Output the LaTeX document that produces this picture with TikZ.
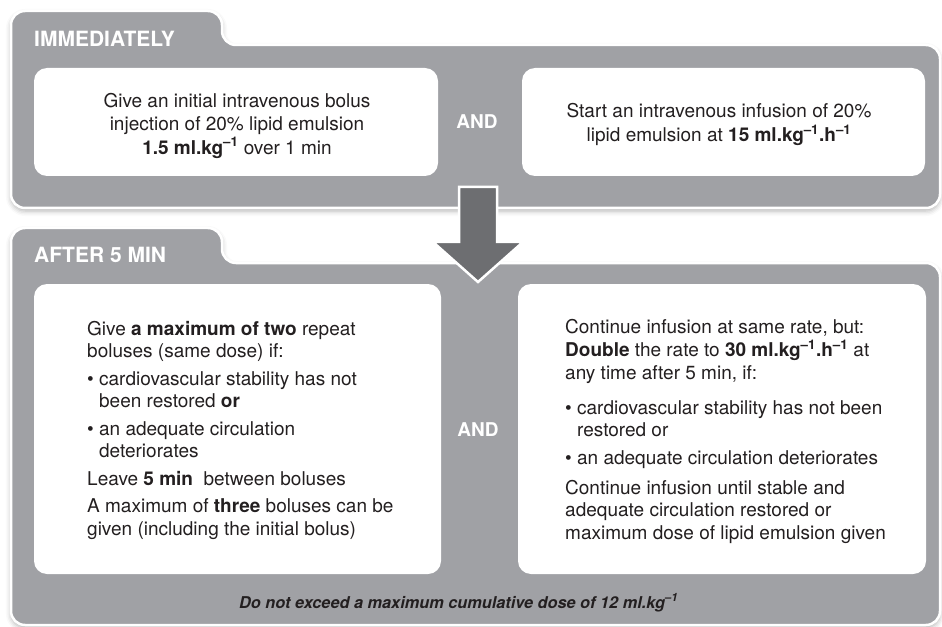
\documentclass[tikz,border=0pt]{standalone}
\usepackage{fontspec}
\setmainfont{TeX Gyre Heros}
\usetikzlibrary{shadows.blur}
\definecolor{panelgray}{HTML}{A0A1A5}
\definecolor{arrowgray}{HTML}{6D6E71}
\definecolor{ink}{HTML}{231F20}
\newcommand\negsup{\textsuperscript{–1}}
\newcommand\bul{\textbullet\ }
\newcommand\bulpad{\phantom{\textbullet\ }}
\begin{document}
\begin{tikzpicture}[x=1bp,y=-1bp,
  panel/.style={fill=panelgray, draw=white, line width=2.5bp, rounded corners=14bp,
    blur shadow={shadow xshift=0bp, shadow yshift=-3bp, shadow blur radius=5bp, shadow opacity=30}},
  card/.style={fill=white, rounded corners=13bp, inner sep=0pt},
  body/.style={text=ink, font=\fontsize{19bp}{22.5bp}\selectfont, inner sep=0pt},
  head/.style={text=white, font=\fontsize{21bp}{25bp}\selectfont\bfseries, inner sep=0pt},
  conj/.style={text=white, font=\fontsize{19bp}{22.5bp}\selectfont\bfseries, inner sep=0pt},
  note/.style={text=ink, font=\fontsize{16.3bp}{20bp}\selectfont\bfseries\itshape, inner sep=0pt},
  blockarrow/.style={fill=arrowgray, draw=white, line width=2.5bp, line join=miter}]
\useasboundingbox (0,0) rectangle (942,627);

% immediate phase panel with its tab
\path[panel] (11,208) -- (11,11) -- (222,11) -- (222,45) -- (940,45) -- (940,208) -- cycle;
% later phase panel with its tab
\path[panel] (11,625) -- (11,228) -- (222,228) -- (222,263) -- (940,263) -- (940,625) -- cycle;

% white cards
\path[card] (34,68) rectangle (438,176);
\path[card] (522,68) rectangle (925,176);
\path[card] (34,284) rectangle (441,574);
\path[card] (518,284) rectangle (926,574);

% headings
\node[head, anchor=base west] (h1) at (34,47) {IMMEDIATELY};
\node[head, anchor=base west] (h2) at (34,263) {AFTER 5 MIN};

% immediate actions
\node[body, anchor=base] (bolus) at (237,108) {\begin{tabular}[t]{@{}c@{}}
Give an initial intravenous bolus\\
injection of 20\% lipid emulsion\\
\textbf{1.5 ml.kg\negsup} over 1 min
\end{tabular}};
\node[conj] (and1) at (477,122) {AND};
\node[body, anchor=base] (infusion) at (719,118) {\begin{tabular}[t]{@{}c@{}}
Start an intravenous infusion of 20\%\\
lipid emulsion at \textbf{15 ml.kg\negsup.h\negsup}
\end{tabular}};

% actions after five minutes
\node[body, anchor=base west] (repeat) at (87,335) {\begin{tabular}[t]{@{}l@{}}
Give \textbf{a maximum of two} repeat\\
boluses (same dose) if:\\[5bp]
\bul cardiovascular stability has not\\
\bulpad been restored \textbf{or}\\[5bp]
\bul an adequate circulation\\
\bulpad deteriorates\\[5bp]
Leave \textbf{5 min}\ \ between boluses\\[5bp]
A maximum of \textbf{three} boluses can be\\
given (including the initial bolus)
\end{tabular}};
\node[conj] (and2) at (478,430) {AND};
\node[body, anchor=base west] (double) at (565,333) {\begin{tabular}[t]{@{}l@{}}
Continue infusion at same rate, but:\\
\textbf{Double} the rate to \textbf{30 ml.kg\negsup.h\negsup} at\\
any time after 5 min, if:\\[12.5bp]
\bul cardiovascular stability has not been\\
\bulpad restored or\\[5bp]
\bul an adequate circulation deteriorates\\[7.5bp]
Continue infusion until stable and\\
adequate circulation restored or\\
maximum dose of lipid emulsion given
\end{tabular}};

\node[note, anchor=base west] (limit) at (239,608) {Do not exceed a maximum cumulative dose of 12 ml.kg\negsup};

% block arrow from the first phase to the second
\path[blockarrow] (459,187) -- (497,187) -- (497,242) -- (523,242) -- (478,282)
  -- (433,242) -- (459,242) -- cycle;
\end{tikzpicture}
\end{document}
